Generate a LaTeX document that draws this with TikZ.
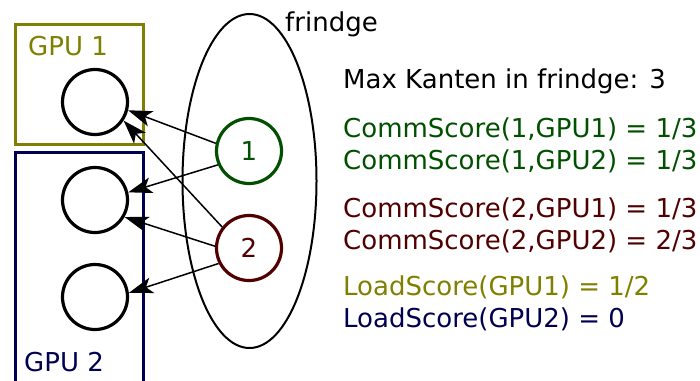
\documentclass[tikz,border=0pt]{standalone}
\usepackage{fontspec}
\setmainfont{DejaVu Sans}
\usetikzlibrary{arrows.meta,shapes.geometric}
\definecolor{gpuone}{RGB}{128,128,0}
\definecolor{gputwo}{RGB}{0,0,80}
\definecolor{nodeone}{RGB}{0,80,0}
\definecolor{nodetwo}{RGB}{80,0,0}
\begin{document}
\begin{tikzpicture}[x=1pt,y=-1pt,
  every node/.style={font=\fontsize{26}{30}\selectfont},
  vertex/.style={circle,draw,line width=3.2pt,minimum size=65pt,inner sep=0pt},
  gpubox/.style={line width=3pt},
  conn/.style={line width=1.5pt,-{Stealth[length=24pt,width=16pt,inset=6pt]}},
  txt/.style={anchor=base west,inner sep=0pt}]
\useasboundingbox (0,0) rectangle (700,380);

% GPU partitions
\draw[gpubox,gpuone] (15,24) rectangle (143,144);
\draw[gpubox,gputwo] (15,152) rectangle (143,400);
\node[txt,text=gpuone] (g1) at (28,55) {GPU 1};
\node[txt,text=gputwo] (g2) at (24,371) {GPU 2};

% vertices already placed
\node[vertex] (a) at (95,102) {};
\node[vertex] (b) at (95,200) {};
\node[vertex] (c) at (95,297) {};

% fringe
\node[ellipse,draw,line width=2pt,minimum width=134pt,minimum height=334pt,inner sep=0pt] (fr) at (249.5,181) {};
\node[txt] (frl) at (285,31) {frindge};
\node[vertex,draw=nodeone,text=nodeone] (n1) at (249,151) {1};
\node[vertex,draw=nodetwo,text=nodetwo] (n2) at (249,248) {2};

% edges from fringe vertices
\draw[conn] (n1.167) -- (a.-14);
\draw[conn] (n1.-156) -- (b.13);
\draw[conn] (n2.142) -- (a.-33);
\draw[conn] (n2.177) -- (b.-30);
\draw[conn] (n2.-153) -- (c.7);

% scores
\node[txt] (t0) at (343,88) {Max Kanten in frindge: 3};
\node[txt,text=nodeone] (t1) at (343,137) {CommScore(1,GPU1) = 1/3};
\node[txt,text=nodeone] (t2) at (343,169) {CommScore(1,GPU2) = 1/3};
\node[txt,text=nodetwo] (t3) at (343,217) {CommScore(2,GPU1) = 1/3};
\node[txt,text=nodetwo] (t4) at (343,249) {CommScore(2,GPU2) = 2/3};
\node[txt,text=gpuone] (t5) at (343,295) {LoadScore(GPU1) = 1/2};
\node[txt,text=gputwo] (t6) at (343,327) {LoadScore(GPU2) = 0};
\end{tikzpicture}
\end{document}
